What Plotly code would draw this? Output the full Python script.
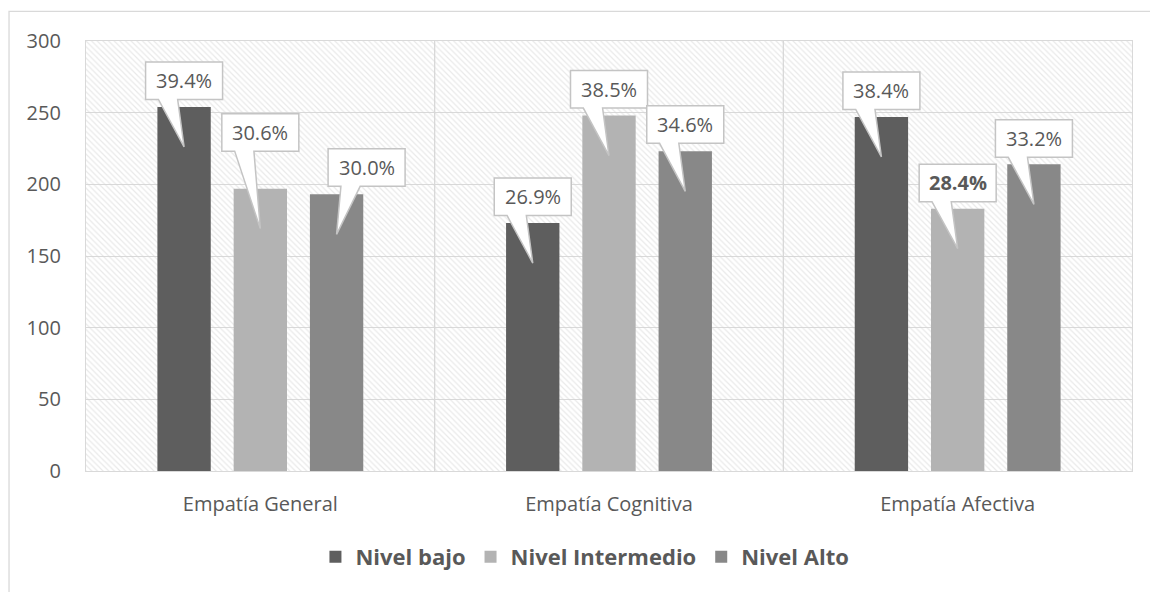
import plotly.graph_objects as go

# --- data -------------------------------------------------------------
categories = ["Empatía General", "Empatía Cognitiva", "Empatía Afectiva"]
series_names = ["Nivel bajo", "Nivel Intermedio", "Nivel Alto"]
nivel_bajo = [254, 173, 247]
nivel_intermedio = [197, 248, 183]
nivel_alto = [193, 223, 214]
y_ticks = [0, 50, 100, 150, 200, 250, 300]

series_values = [nivel_bajo, nivel_intermedio, nivel_alto]
series_colors = ["#5e5e5e", "#b3b3b3", "#888888"]

TEXT = "#595959"
GRID = "#d9d9d9"
FONT = "Open Sans"
Y_MAX = 300

# bar geometry inside each category (fractions of a category width)
SLOT = 0.2187
BAR_W = 0.153

# callout layout: (x shift of box centre, gap between box and bar top) in px
callout_layout = [
    [(0, 7.5), (0, 37.5), (30, 8)],
    [(0, 7.5), (0, 7.5), (0, 8)],
    [(0, 7.5), (0, 7), (0, 7)],
]
BOX_W, BOX_H, TIP_DEPTH = 77, 37.5, 40
bold_labels = {(2, 1)}

totals = [sum(s[i] for s in series_values) for i in range(len(categories))]
xpos = list(range(len(categories)))
n_series = len(series_names)

fig = go.Figure()

# hatched plot background (drawn first so the bars sit on top)
fig.add_trace(go.Bar(
    x=[(len(categories) - 1) / 2], y=[Y_MAX], width=[len(categories)],
    marker=dict(color="rgba(0,0,0,0)", line=dict(width=0),
                pattern=dict(shape="\\", fgcolor="#d4d4d4", bgcolor="rgba(0,0,0,0)",
                             size=4, solidity=0.3)),
    showlegend=False, hoverinfo="skip",
))

for k, (name, vals, col) in enumerate(zip(series_names, series_values, series_colors)):
    centre = (k - (n_series - 1) / 2) * SLOT
    fig.add_trace(go.Bar(
        x=xpos, y=vals, name=name, width=BAR_W, offset=centre - BAR_W / 2,
        marker=dict(color=col, line=dict(width=0)),
    ))

shapes = []
annotations = []

# separators between categories
for i in range(1, len(categories)):
    shapes.append(dict(type="line", xref="x", yref="y", x0=i - 0.5, x1=i - 0.5,
                       y0=0, y1=Y_MAX, line=dict(color=GRID, width=1.3), layer="below"))

# callout labels
for k, vals in enumerate(series_values):
    for i, v in enumerate(vals):
        bx = i + (k - (n_series - 1) / 2) * SLOT
        dx, gap = callout_layout[i][k]
        L, R = dx - BOX_W / 2, dx + BOX_W / 2
        B, T = gap, gap + BOX_H
        if dx >= 0:
            x1, x2 = L + BOX_W * 2 / 12, L + BOX_W * 5 / 12
        else:
            x1, x2 = L + BOX_W * 7 / 12, L + BOX_W * 10 / 12
        path = (f"M{L},{B} L{x1},{B} L0,{-TIP_DEPTH} L{x2},{B} L{R},{B} "
                f"L{R},{T} L{L},{T} Z")
        shapes.append(dict(type="path", xref="x", yref="y",
                           xsizemode="pixel", ysizemode="pixel",
                           xanchor=bx, yanchor=v, path=path,
                           fillcolor="white", line=dict(color="#c4c4c4", width=1.5),
                           layer="above"))
        pct = f"{v / totals[i] * 100:.1f}%"
        if (i, k) in bold_labels:
            pct = f"<b>{pct}</b>"
        annotations.append(dict(x=bx, y=v, xref="x", yref="y", text=pct,
                                showarrow=False, xshift=dx, yshift=gap + BOX_H / 2,
                                xanchor="center", yanchor="middle",
                                font=dict(family=FONT, size=20, color=TEXT)))

# outer chart frame
shapes.append(dict(type="rect", xref="paper", yref="paper",
                   x0=-0.0736, x1=1.2, y0=-0.6, y1=1.0687,
                   line=dict(color=GRID, width=1.3), fillcolor="rgba(0,0,0,0)",
                   layer="below"))

fig.update_layout(
    width=1150, height=592,
    margin=dict(l=86, r=18, t=41, b=121),
    paper_bgcolor="white", plot_bgcolor="white",
    barmode="overlay",
    font=dict(family=FONT, color=TEXT, size=20),
    shapes=shapes, annotations=annotations,
    showlegend=True,
    legend=dict(orientation="h", x=0.477, xanchor="center", y=-0.2, yanchor="middle",
                font=dict(family=FONT, size=22, color=TEXT, weight="bold"),
                itemwidth=30, traceorder="normal"),
    xaxis=dict(range=[-0.5, len(categories) - 0.5], tickvals=xpos, ticktext=categories,
               showgrid=False, zeroline=False, showline=True, mirror=True,
               linecolor=GRID, linewidth=1.3, ticks="", ticklabelstandoff=15,
               tickfont=dict(family=FONT, size=20, color=TEXT)),
    yaxis=dict(range=[0, Y_MAX], tickvals=y_ticks, showgrid=True, gridcolor=GRID,
               gridwidth=1.3, zeroline=False, showline=True, mirror=True,
               linecolor=GRID, linewidth=1.3, ticks="", ticklabelstandoff=20,
               tickfont=dict(family=FONT, size=20, color=TEXT)),
)

fig.write_html("out.html")
